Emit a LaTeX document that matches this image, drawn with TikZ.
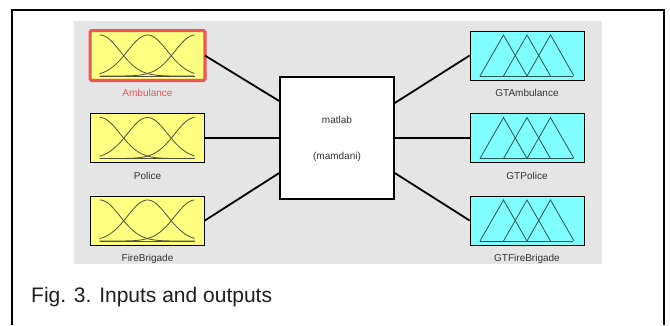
\documentclass[tikz,border=0pt]{standalone}
\usepackage{fontspec}
\setmainfont{Liberation Sans}
\usetikzlibrary{positioning, calc}
\definecolor{cYellow}{RGB}{255,255,128}
\definecolor{cCyan}{RGB}{128,255,255}
\definecolor{cPanel}{RGB}{229,229,229}
\definecolor{cSel}{RGB}{240,84,84}
\definecolor{cMf}{RGB}{80,80,60}
\definecolor{cTri}{RGB}{40,85,85}
\tikzset{
	inbox/.style   ={rectangle, draw=black, line width=0.8pt, fill=cYellow, minimum width=114pt, minimum height=49pt, inner sep=0pt},
	outbox/.style  ={rectangle, draw=black, line width=0.8pt, fill=cCyan, minimum width=114pt, minimum height=49pt, inner sep=0pt},
	rulebox/.style ={rectangle, draw=black, line width=1.6pt, fill=white, minimum width=114pt, minimum height=122pt},
	varname/.style ={font=\fontsize{10}{12}\selectfont, text=black!80, inner sep=0pt},
	link/.style    ={line width=1.8pt},
	gauss/.style   ={cMf, line width=0.8pt},
	tri/.style     ={cTri, line width=0.8pt},
}

\begin{document}
\begin{tikzpicture}[x=1pt, y=-1pt]
	\useasboundingbox (0,0) rectangle (670,325);
	% frame and panel
	\draw[line width=2pt] (12,325) -- (12,10) -- (664,10) -- (664,325);
	\fill[cPanel] (74,21) rectangle (602,264);
	% inputs
	\node[inbox] (amb) at (147.5,55.5) {};
	\node[inbox] (pol) at (147.5,138) {};
	\node[inbox] (fire) at (147.5,220.5) {};
	\draw[cSel, line width=3.2pt, rounded corners=1.5pt] (amb.north west) rectangle (amb.south east);
	\node[varname, text=cSel, below=9pt of amb] (ambl) {Ambulance};
	\node[varname, below=9pt of pol] (poll) {Police};
	\node[varname, below=9pt of fire] (firel) {FireBrigade};
	% outputs
	\node[outbox] (gtamb) at (527,55.5) {};
	\node[outbox] (gtpol) at (527,138) {};
	\node[outbox] (gtfire) at (527,220.5) {};
	\node[varname, below=9pt of gtamb] (gtambl) {GTAmbulance};
	\node[varname, below=9pt of gtpol] (gtpoll) {GTPolice};
	\node[varname, below=9pt of gtfire] (gtfirel) {GTFireBrigade};
	% rule block
	\node[rulebox] (mam) at (337,138) {};
	\node[varname, above=14pt of mam.center] (mamt) {matlab};
	\node[varname, below=14pt of mam.center] (mamm) {(mamdani)};
	% membership functions
	\foreach \n in {amb,pol,fire}{
		\begin{scope}[shift={(\n.center)}]
			\draw[gauss] (-48,20.5) -- (47,20.5);
			\foreach \c in {-47.5,0,47.5}
				\draw[gauss] plot[domain=-48:47, samples=50, smooth] (\x, {20.5-41*exp(-((\x-\c)^2)/800)});
		\end{scope}
	}
	\foreach \n in {gtamb,gtpol,gtfire}{
		\begin{scope}[shift={(\n.center)}]
			\draw[tri] (-47,20.5) -- (46,20.5);
			\foreach \c in {-23.5,0,23.5}
				\draw[tri] (\c-23.5,20.5) -- (\c,-20.5) -- (\c+23.5,20.5);
		\end{scope}
	}
	% connectors
	\draw[link] (amb.east) -- ([yshift=37pt]mam.west);
	\draw[link] (pol.east) -- (mam.west);
	\draw[link] (fire.east) -- ([yshift=-35pt]mam.west);
	\draw[link] ([yshift=35pt]mam.east) -- (gtamb.west);
	\draw[link] (mam.east) -- (gtpol.west);
	\draw[link] ([yshift=-35pt]mam.east) -- (gtfire.west);
	% caption
	\node[anchor=west, inner sep=0pt, font=\fontsize{21}{24}\selectfont, text=black!88] (cap) at (31,297) {Fig. 3. Inputs and outputs};
\end{tikzpicture}
\end{document}
